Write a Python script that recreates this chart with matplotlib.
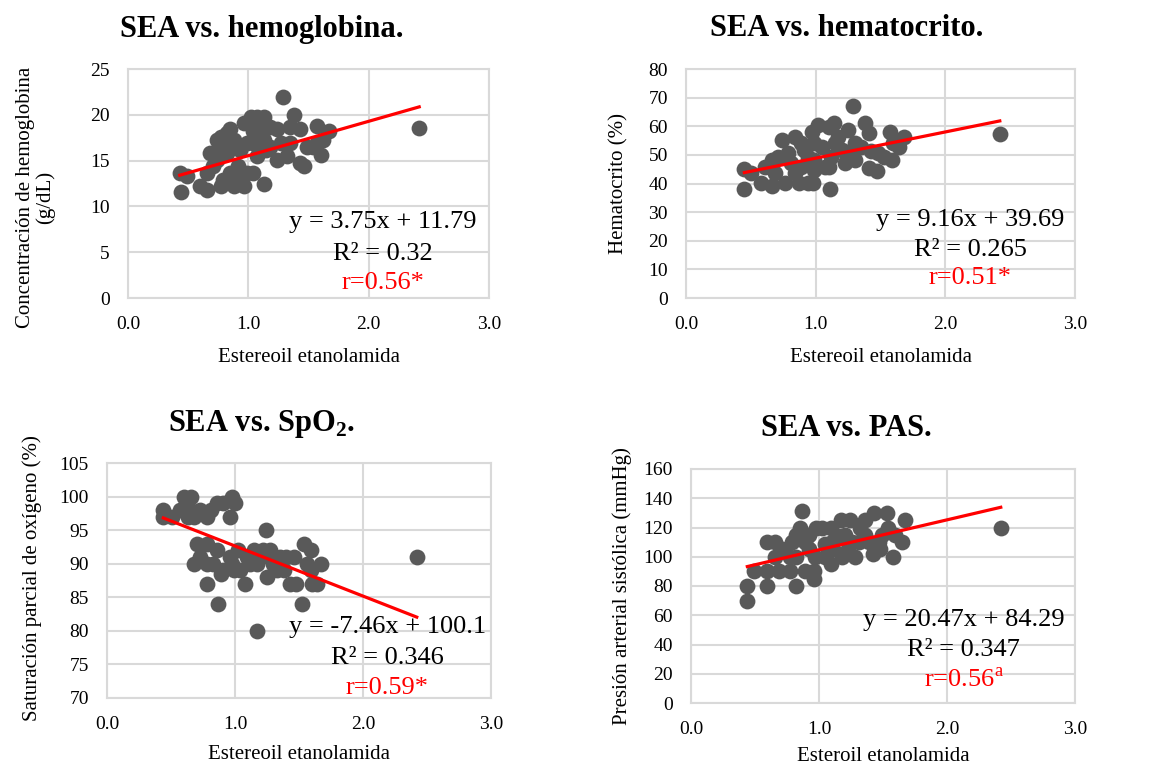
import matplotlib
matplotlib.use("Agg")
import matplotlib.pyplot as plt
import numpy as np

plt.rcParams["font.family"] = ["Liberation Serif", "DejaVu Serif"]
plt.rcParams["mathtext.fontset"] = "custom"
plt.rcParams["mathtext.rm"] = "Liberation Serif"
plt.rcParams["mathtext.bf"] = "Liberation Serif:bold"

# ---- data
hb_x = [0.43, 0.44, 0.49, 0.60, 0.66, 0.68, 0.74, 0.77, 0.82, 0.85, 0.88, 0.91, 0.96, 0.99,
        0.96, 1.02, 1.07, 1.13, 1.13, 1.04, 1.10, 1.15, 1.24, 1.24, 1.29, 1.32, 1.38, 1.35,
        1.43, 1.43, 1.46, 1.49, 1.57, 1.60, 1.62, 1.67, 2.42, 0.71, 0.77, 0.82, 0.88, 0.93,
        0.99, 1.07, 1.13, 1.18, 1.27, 1.35, 1.54, 0.66, 0.79, 0.93, 0.74, 1.04, 0.85, 0.77,
        1.18, 1.10, 1.57, 1.04]
hb_y = [13.6, 11.6, 13.3, 12.2, 11.8, 15.8, 17.3, 12.2, 18.0, 13.6, 12.2, 14.4, 12.2, 13.6,
        19.1, 19.8, 19.8, 19.8, 12.4, 16.9, 18.0, 16.2, 18.4, 15.1, 21.9, 15.5, 20.0, 18.7,
        18.5, 14.7, 14.4, 16.5, 18.8, 15.6, 17.3, 18.2, 18.6, 14.4, 16.5, 15.8, 17.3, 16.2,
        16.9, 15.5, 17.3, 16.5, 16.9, 16.9, 16.5, 13.6, 12.9, 12.9, 15.1, 13.6, 18.4, 17.6,
        18.7, 18.7, 16.9, 18.2]

hct_x = [0.45, 0.45, 0.50, 0.58, 0.61, 0.66, 0.66, 0.71, 0.74, 0.76, 0.79, 0.84, 0.87, 0.89,
         0.89, 0.94, 0.97, 0.98, 0.99, 1.02, 1.05, 1.10, 1.12, 1.11, 1.14, 1.17, 1.20, 1.23,
         1.25, 1.29, 1.30, 1.35, 1.38, 1.41, 1.43, 1.41, 1.47, 1.48, 1.53, 1.57, 1.59, 1.60,
         1.64, 1.68, 2.42, 0.81, 0.94, 0.99, 1.07, 1.15, 1.25, 1.30, 0.84, 0.69, 1.10, 0.91,
         0.99]
hct_y = [45.1, 38.0, 43.6, 40.1, 45.9, 39.0, 48.3, 49.4, 55.2, 40.1, 50.6, 56.4, 40.1, 54.1,
         45.9, 40.1, 58.1, 40.1, 48.3, 60.5, 52.9, 59.9, 49.4, 38.0, 61.0, 56.4, 51.7, 47.1,
         58.7, 67.1, 48.3, 52.9, 61.3, 57.6, 51.2, 45.3, 44.2, 50.6, 49.4, 58.1, 48.3, 54.1,
         52.9, 56.4, 57.2, 47.1, 49.4, 54.1, 45.9, 54.1, 50.6, 54.1, 43.6, 43.6, 45.9, 51.7,
         44.7]

spo2_x = [0.44, 0.44, 0.51, 0.60, 0.66, 0.63, 0.63, 0.68, 0.73, 0.78, 0.81, 0.86, 0.91, 0.96,
          0.98, 1.00, 1.24, 0.70, 0.78, 0.68, 0.73, 0.78, 0.78, 0.86, 0.89, 0.87, 0.96, 0.98,
          1.04, 1.08, 1.09, 1.15, 1.17, 1.17, 1.22, 1.25, 1.30, 1.35, 1.38, 1.43, 1.46, 1.48,
          1.52, 1.54, 1.59, 1.56, 1.59, 1.60, 1.64, 1.67, 2.42, 0.91, 1.02, 1.12, 1.27, 1.33,
          1.40, 0.99, 1.20, 0.83, 0.57]
spo2_y = [98.0, 97.0, 97.0, 100.0, 100.0, 98.5, 97.0, 97.0, 98.0, 97.0, 98.0, 99.0, 99.0, 97.0,
          100.0, 99.0, 95.0, 93.0, 93.0, 90.0, 91.0, 90.0, 87.0, 92.0, 88.5, 84.0, 91.0, 90.0,
          89.0, 87.0, 91.0, 92.0, 90.0, 80.0, 92.0, 88.0, 90.0, 91.0, 89.0, 87.0, 91.0, 87.0,
          84.0, 93.0, 92.0, 90.0, 89.0, 87.0, 87.0, 90.0, 91.0, 89.0, 92.0, 90.0, 92.0, 89.0,
          91.0, 89.0, 91.0, 90.0, 98.0]

pas_x = [0.44, 0.44, 0.49, 0.59, 0.59, 0.59, 0.66, 0.66, 0.69, 0.77, 0.79, 0.82, 0.82, 0.85,
         0.87, 0.89, 0.89, 0.92, 0.96, 0.96, 0.97, 0.98, 1.02, 1.05, 1.09, 1.09, 1.11, 1.15,
         1.17, 1.18, 1.20, 1.24, 1.26, 1.28, 1.32, 1.36, 1.39, 1.43, 1.42, 1.47, 1.48, 1.53,
         1.54, 1.58, 1.59, 1.65, 1.67, 2.42, 0.71, 0.77, 0.92, 1.10, 1.31, 1.36, 1.49, 1.05,
         1.23, 0.82]
pas_y = [70, 80, 90, 80, 90, 110, 110, 100, 90, 90, 110, 80, 100, 120,
         131, 110, 90, 105, 85, 90, 100, 120, 120, 109, 120, 95, 105, 114,
         125, 100, 115, 125, 110, 100, 120, 125, 110, 130, 102, 110, 105, 130,
         120, 100, 115, 110, 125, 120, 105, 100, 115, 110, 110, 115, 115, 100,
         105, 115]

# trendline coefficients shown on the chart (slope, intercept)
hb_fit = (3.75, 11.79)
hct_fit = (9.16, 39.69)
spo2_fit = (-7.46, 100.1)
pas_fit = (20.47, 84.29)

hb_text = ["y = 3.75x + 11.79", "R² = 0.32", "r=0.56*"]
hct_text = ["y = 9.16x + 39.69", "R² = 0.265", "r=0.51*"]
spo2_text = ["y = -7.46x + 100.1", "R² = 0.346", "r=0.59*"]
pas_text = ["y = 20.47x + 84.29", "R² = 0.347", r"r=0.56$^{\mathrm{a}}$"]

GRID = "#d9d9d9"
DOT = "#595959"
W, H = 1149, 766

fig = plt.figure(figsize=(11.49, 7.66), dpi=100)


def panel(box, xs, ys, fit, texts, title, title_xy, ylabel, xlabel, ylim, yticks,
          ylab_xy, xlab_y, text_x, text_ys):
    l, r, t, b = box
    ax = fig.add_axes([l / W, 1 - b / H, (r - l) / W, (b - t) / H])
    ax.set_axisbelow(True)
    ax.grid(True, color=GRID, linewidth=1.5)
    for s in ax.spines.values():
        s.set_color(GRID)
        s.set_linewidth(1.5)
    ax.scatter(xs, ys, s=130, color=DOT, linewidths=0, zorder=2)
    xl = np.array([min(xs), max(xs)])
    ax.plot(xl, fit[0] * xl + fit[1], color="red", lw=2.3, zorder=3)
    ax.set_xlim(0, 3)
    ax.set_xticks([0, 1, 2, 3])
    ax.set_xticklabels(["0.0", "1.0", "2.0", "3.0"])
    ax.set_ylim(*ylim)
    ax.set_yticks(yticks)
    ax.tick_params(length=0, labelsize=14, pad=13)
    ax.set_ylabel(ylabel, fontsize=15, linespacing=1.05)
    ax.yaxis.set_label_coords(*ylab_xy)
    ax.set_xlabel(xlabel, fontsize=15)
    ax.xaxis.set_label_coords(0.5, xlab_y)
    fig.text(title_xy[0] / W, 1 - title_xy[1] / H, title, ha="center", va="center",
             fontsize=22, fontweight="bold")
    colors = ["black", "black", "red"]
    for txt, ty, c in zip(texts, text_ys, colors):
        ax.text(text_x, ty, txt, transform=ax.transAxes, ha="center", va="center",
                fontsize=19, color=c)
    return ax


panel((128, 489, 69, 298), hb_x, hb_y, hb_fit, hb_text,
      "SEA vs. hemoglobina.", (262, 29), "Concentración de hemoglobina\n(g/dL)",
      "Estereoil etanolamida", (0, 25), [0, 5, 10, 15, 20, 25],
      (-0.202, 0.44), -0.218, 0.706, [0.33, 0.19, 0.065])

panel((686, 1075, 69, 298), hct_x, hct_y, hct_fit, hct_text,
      "SEA vs. hematocrito.", (847, 29), "Hematocrito (%)",
      "Estereoil etanolamida", (0, 80), list(range(0, 81, 10)),
      (-0.149, 0.5), -0.218, 0.73, [0.34, 0.21, 0.087])

panel((107, 491, 463, 698), spo2_x, spo2_y, spo2_fit, spo2_text,
      r"SEA vs. SpO$_{\mathbf{2}}$.", (262, 424), "Saturación parcial de oxígeno (%)",
      "Estereoil etanolamida", (70, 105), list(range(70, 106, 5)),
      (-0.169, 0.51), -0.20, 0.73, [0.30, 0.17, 0.043])

panel((691, 1075, 469, 703), pas_x, pas_y, pas_fit, pas_text,
      "SEA vs. PAS.", (846, 428), "Presión arterial sistólica (mmHg)",
      "Esteroil etanolamida", (0, 160), list(range(0, 161, 20)),
      (-0.154, 0.5), -0.19, 0.71, [0.355, 0.226, 0.098])

fig.savefig("out.png", dpi=100)
